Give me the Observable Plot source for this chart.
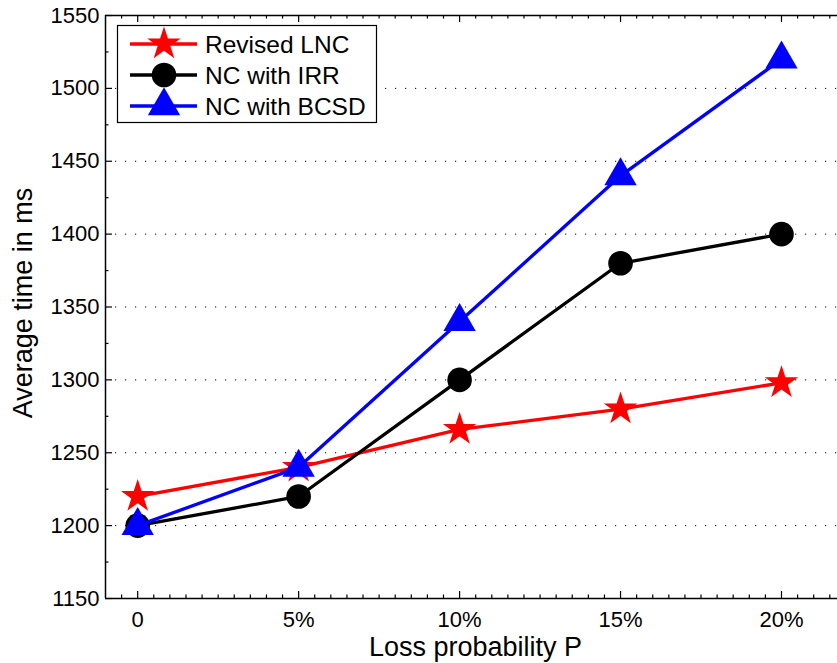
<!DOCTYPE html>
<html>
<head>
<meta charset="utf-8">
<script src="https://cdn.jsdelivr.net/npm/d3@7"></script>
<script src="https://cdn.jsdelivr.net/npm/@observablehq/plot@0.6"></script>
<style>
  html, body { margin: 0; padding: 0; background: white; }
  #chart svg { display: block; }
</style>
</head>
<body>
<div id="chart"></div>
<script>
// ---- data ----
const xValues = [0, 5, 10, 15, 20];
const xTickLabels = ["0", "5%", "10%", "15%", "20%"];
const seriesNames = ["Revised LNC", "NC with IRR", "NC with BCSD"];
const revisedLNC = [1220, 1240, 1266, 1280, 1298];
const ncWithIRR = [1200, 1220, 1300, 1380, 1400];
const ncWithBCSD = [1200, 1240, 1340, 1440, 1520];
const yTickValues = [1150, 1200, 1250, 1300, 1350, 1400, 1450, 1500, 1550];
const yGridValues = [1200, 1250, 1300, 1350, 1400, 1450, 1500];
const yMinorTicks = [1175, 1225, 1275, 1325, 1375, 1425, 1475, 1525];
const xMinorTicks = d3.range(-0.5, 21.6, 0.5).filter(v => v % 5 !== 0);
const xLabel = "Loss probability P";
const yLabel = "Average time in ms";

const colors = ["#ff0000", "#000000", "#0000ff"];
const symbols = ["star", "circle", "triangle"];
const radii = [10.5, 12.3, 12];
const seriesValues = [revisedLNC, ncWithIRR, ncWithBCSD];

const rows = seriesValues.map((vals, s) =>
  vals.map((v, i) => ({series: seriesNames[s], x: xValues[i], y: v})));

const font = "'Liberation Sans', Arial, Helvetica, sans-serif";

const W = 837, H = 663, mL = 105, mR = 0, mT = 15, mB = 65;
const frameW = W - mL - mR, frameH = H - mT - mB;
const majorLen = 7, minorLen = 3.5;

const seriesMarks = [];
rows.forEach((data, s) => {
  seriesMarks.push(Plot.line(data, {x: "x", y: "y", stroke: colors[s], strokeWidth: 3.3}));
  seriesMarks.push(Plot.dot(data, {x: "x", y: "y", symbol: () => symbols[s], fill: colors[s], stroke: "none", r: radii[s]}));
});

const chart = Plot.plot({
  width: W,
  height: H,
  marginLeft: mL,
  marginRight: mR,
  marginTop: mT,
  marginBottom: mB,
  style: {fontFamily: font, fontSize: "22px", color: "black", background: "white", overflow: "visible"},
  x: {domain: [-1, 21.74], axis: null},
  y: {domain: [1150, 1550], axis: null},
  marks: [
    Plot.ruleY(yGridValues, {stroke: "black", strokeWidth: 1, strokeDasharray: "1.2,8.8"}),
    // frame lines
    Plot.ruleX([-1], {stroke: "black", strokeWidth: 1.5}),
    Plot.ruleY([1150], {stroke: "black", strokeWidth: 1.5}),
    Plot.ruleY([1550], {stroke: "black", strokeWidth: 1.5}),
    // inward ticks: left
    Plot.tickY(yTickValues, {y: d => d, stroke: "black", strokeWidth: 1.2, insetRight: frameW - majorLen}),
    Plot.tickY(yMinorTicks, {y: d => d, stroke: "black", strokeWidth: 1.2, insetRight: frameW - minorLen}),
    // inward ticks: bottom
    Plot.tickX(xValues, {x: d => d, stroke: "black", strokeWidth: 1.2, insetTop: frameH - majorLen}),
    Plot.tickX(xMinorTicks, {x: d => d, stroke: "black", strokeWidth: 1.2, insetTop: frameH - minorLen}),
    // inward ticks: top
    Plot.tickX(xValues, {x: d => d, stroke: "black", strokeWidth: 1.2, insetBottom: frameH - majorLen}),
    Plot.tickX(xMinorTicks, {x: d => d, stroke: "black", strokeWidth: 1.2, insetBottom: frameH - minorLen}),
    // tick labels
    Plot.axisY(yTickValues, {anchor: "left", tickSize: 0, tickPadding: 6, fontSize: 22, tickFormat: d => String(d), label: null}),
    Plot.axisX(xValues, {anchor: "bottom", tickSize: 0, tickPadding: 13, fontSize: 22, tickFormat: (d) => xTickLabels[xValues.indexOf(d)], label: null}),
    // axis titles
    Plot.text([xLabel], {frameAnchor: "bottom", text: d => d, dy: 49, dx: 4, fontSize: 27, textAnchor: "middle", lineAnchor: "middle"}),
    Plot.text([yLabel], {frameAnchor: "left", text: d => d, dx: -82, dy: -4, rotate: -90, fontSize: 27, textAnchor: "middle", lineAnchor: "middle"}),
    ...seriesMarks
  ]
});

document.getElementById("chart").appendChild(chart);

// ---- legend ----
const svg = d3.select(chart);
const lg = svg.append("g").attr("font-family", font).attr("font-size", 24.5).attr("text-anchor", "start");
lg.append("rect").attr("x", 117.5).attr("y", 25.5).attr("width", 259).attr("height", 97)
  .attr("fill", "white").attr("stroke", "black").attr("stroke-width", 1.2);
const rowY = [44, 75, 106];
const d3Sym = {star: d3.symbolStar, circle: d3.symbolCircle, triangle: d3.symbolTriangle};
seriesNames.forEach((name, s) => {
  const y = rowY[s];
  lg.append("line").attr("x1", 130).attr("x2", 197).attr("y1", y).attr("y2", y)
    .attr("stroke", colors[s]).attr("stroke-width", 3.3);
  lg.append("path").attr("transform", `translate(164,${y})`)
    .attr("d", d3.symbol(d3Sym[symbols[s]], radii[s] * radii[s] * Math.PI)())
    .attr("fill", colors[s]);
  lg.append("text").attr("x", 205).attr("y", y).attr("dy", "0.35em")
    .attr("text-anchor", "start").attr("fill", "black").text(name);
});
</script>
</body>
</html>
